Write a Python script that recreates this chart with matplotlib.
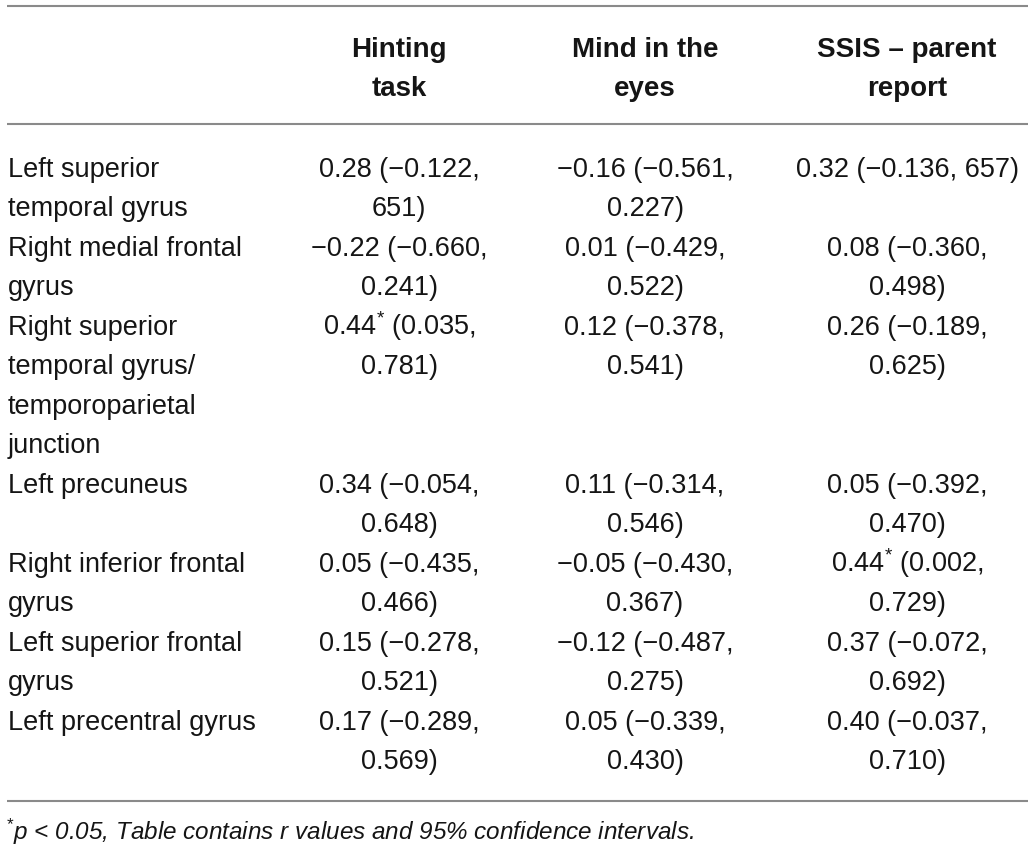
import matplotlib
matplotlib.use('Agg')
import matplotlib.pyplot as plt

plt.rcParams['font.family'] = ['Liberation Sans', 'DejaVu Sans']
plt.rcParams['mathtext.fontset'] = 'custom'
plt.rcParams['mathtext.rm'] = 'Liberation Sans'
plt.rcParams['mathtext.it'] = 'Liberation Sans:italic'

# table contents (one list entry per cell, \n = wrapped line)
headers = ['Hinting\ntask', 'Mind in the\neyes', 'SSIS \u2013 parent\nreport']
regions = ['Left superior\ntemporal gyrus',
           'Right medial frontal\ngyrus',
           'Right superior\ntemporal gyrus/\ntemporoparietal\njunction',
           'Left precuneus',
           'Right inferior frontal\ngyrus',
           'Left superior frontal\ngyrus',
           'Left precentral gyrus']
hinting = ['0.28 (\u22120.122,\n651)',
           '\u22120.22 (\u22120.660,\n0.241)',
           '0.44$^{*}$ (0.035,\n0.781)',
           '0.34 (\u22120.054,\n0.648)',
           '0.05 (\u22120.435,\n0.466)',
           '0.15 (\u22120.278,\n0.521)',
           '0.17 (\u22120.289,\n0.569)']
mind_eyes = ['\u22120.16 (\u22120.561,\n0.227)',
             '0.01 (\u22120.429,\n0.522)',
             '0.12 (\u22120.378,\n0.541)',
             '0.11 (\u22120.314,\n0.546)',
             '\u22120.05 (\u22120.430,\n0.367)',
             '\u22120.12 (\u22120.487,\n0.275)',
             '0.05 (\u22120.339,\n0.430)']
ssis = ['0.32 (\u22120.136, 657)',
        '0.08 (\u22120.360,\n0.498)',
        '0.26 (\u22120.189,\n0.625)',
        '0.05 (\u22120.392,\n0.470)',
        '0.44$^{*}$ (0.002,\n0.729)',
        '0.37 (\u22120.072,\n0.692)',
        '0.40 (\u22120.037,\n0.710)']
footnote = '$^{*}$p < 0.05, Table contains r values and 95% confidence intervals.'

W, H = 1035, 854
fig = plt.figure(figsize=(W / 100, H / 100), dpi=100)
ax = fig.add_axes([0, 0, 1, 1])
ax.set_xlim(0, W)
ax.set_ylim(H, 0)
ax.axis('off')

ink = '#151515'
fs = 19.5
pitch = 39.5
col_x = [399, 645, 907]
rule = dict(color='#8a8a8a', lw=1.5, solid_capstyle='butt')

for yr in [7, 125, 802]:
    ax.plot([7, 1028], [yr, yr], **rule)

for x, h in zip(col_x, headers):
    for k, ln in enumerate(h.split('\n')):
        ax.text(x, 57 + k * 39, ln, ha='center', va='baseline', fontsize=20,
                fontweight='bold', color=ink)

base = 177
for i, reg in enumerate(regions):
    reg_lines = reg.split('\n')
    for k, ln in enumerate(reg_lines):
        ax.text(8, base + k * pitch, ln, ha='left', va='baseline', fontsize=fs, color=ink)
    for x, col in zip(col_x, [hinting, mind_eyes, ssis]):
        for k, ln in enumerate(col[i].split('\n')):
            ax.text(x, base + k * pitch, ln, ha='center', va='baseline', fontsize=fs, color=ink)
    base += max(len(reg_lines), 2) * pitch

ax.text(6, 840, footnote, ha='left', va='baseline', fontsize=17.5, style='italic', color=ink)

fig.savefig('out.png', dpi=100)
